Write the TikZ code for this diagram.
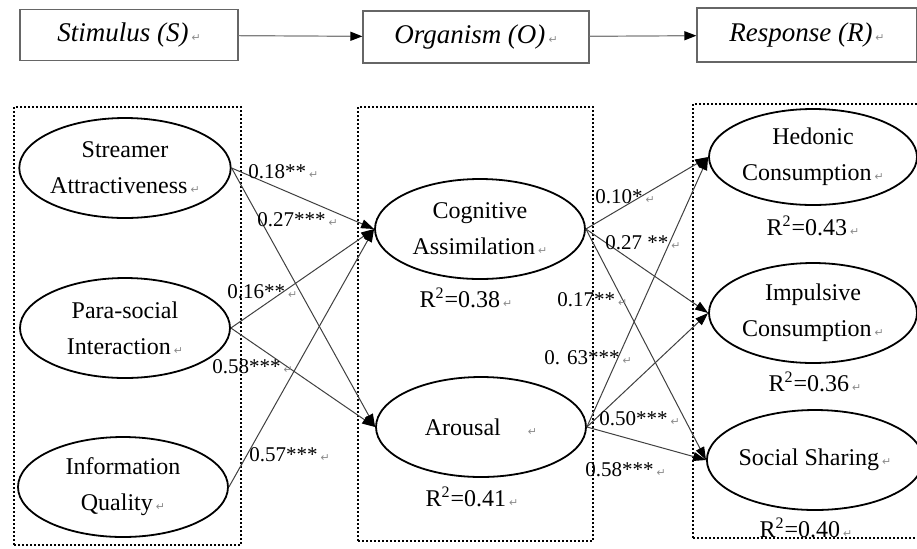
\documentclass[tikz,border=0pt]{standalone}
\usepackage{fontspec}
\setmainfont{Liberation Serif}
\newfontfamily\markfont{DejaVu Sans}
\usepackage{tikz}
\usetikzlibrary{arrows.meta, positioning}
\usetikzlibrary{shapes.geometric}

% marca de parágrafo cinza
\newcommand{\retmark}{\hspace{1.5pt}{\markfont\fontsize{5.5}{6}\selectfont\color{black!45}↵}}

\begin{document}
\begin{tikzpicture}[
    x=0.5pt, y=-0.5pt,
    stage/.style={
        rectangle,
        draw=black!60,
        line width=0.6pt,
        minimum width=109pt,
        minimum height=25.5pt,
        inner sep=0pt,
        font=\fontsize{13.5}{16}\selectfont\itshape
    },
    construct/.style={
        ellipse,
        draw=black,
        line width=0.9pt,
        minimum width=105pt,
        minimum height=50pt,
        inner sep=0pt,
        align=center,
        font=\fontsize{12}{18}\selectfont
    },
    dotbox/.style={
        rectangle,
        draw=black,
        line width=1pt,
        dash pattern=on 1pt off 1pt,
        inner sep=0pt
    },
    flow/.style={
        -{Triangle[length=6pt, width=4.5pt, color=black]},
        draw=black!50,
        line width=0.6pt
    },
    link/.style={
        -{Triangle[length=6.5pt, width=4.5pt, color=black]},
        draw=black!75,
        line width=0.5pt
    },
    coef/.style={
        anchor=west,
        inner sep=0pt,
        font=\fontsize{10.5}{12}\selectfont
    },
    rsq/.style={
        inner sep=0pt,
        font=\fontsize{12}{14}\selectfont
    }
]

\useasboundingbox (0,0) rectangle (917,548);

% =============== S -> O -> R (topo) ===============

\node[stage] (stimulus) at (129, 35) {Stimulus (S)\retmark};
\node[stage, minimum width=113pt, minimum height=26pt] (organism) at (476, 37) {Organism (O)\retmark};
\node[stage, minimum width=110pt, minimum height=27pt] (response) at (807, 35) {Response (R)\retmark};

\draw[flow] (stimulus) -- (organism);
\draw[flow] (organism) -- (response);

% =============== Grupos pontilhados ===============

\node[dotbox, minimum width=113.5pt, minimum height=219pt] (grp_s) at (127.5, 326) {};
\node[dotbox, minimum width=117.5pt, minimum height=217pt] (grp_o) at (475.5, 324) {};
\node[dotbox, minimum width=118.5pt, minimum height=217pt] (grp_r) at (811.5, 321) {};

% =============== Construtos ===============

% Estímulo
\node[construct] (streamer)   at (125, 168) {Streamer\\Attractiveness\retmark};
\node[construct] (parasocial) at (125, 328) {Para-social\\Interaction\retmark};
\node[construct] (infoqual)   at (123, 487) {Information\\Quality\retmark};

% Organismo
\node[construct] (cognitive) at (480, 229) {Cognitive\\Assimilation\retmark};
\node[construct] (arousal)   at (481, 427) {Arousal\hspace{12pt}\retmark};

% Resposta
\node[construct, minimum width=104pt, minimum height=48pt] (hedonic) at (813, 157) {Hedonic\\Consumption\retmark};
\node[construct, minimum width=104pt] (impulsive) at (813, 313) {Impulsive\\Consumption\retmark};
\node[construct, minimum width=102pt] (sharing) at (815, 460) {Social Sharing\retmark};

% =============== Caminhos ===============

\draw[link] (streamer.east)   -- (cognitive.west);
\draw[link] (streamer.east)   -- (arousal.west);
\draw[link] (parasocial.east) -- (cognitive.west);
\draw[link] (parasocial.east) -- (arousal.west);
\draw[link] (infoqual.east)   -- (cognitive.west);

\draw[link] (cognitive.east) -- (hedonic.west);
\draw[link] (cognitive.east) -- (impulsive.west);
\draw[link] (cognitive.east) -- (sharing.west);
\draw[link] (arousal.east)   -- (hedonic.west);
\draw[link] (arousal.east)   -- (impulsive.west);
\draw[link] (arousal.east)   -- (sharing.west);

% Coeficientes
\node[coef] (c_sa_cog)  at (248, 172) {0.18**\retmark};
\node[coef] (c_sa_aro)  at (257, 220) {0.27***\retmark};
\node[coef] (c_ps_cog)  at (227, 292) {0.16**\retmark};
\node[coef] (c_ps_aro)  at (212, 367) {0.58***\retmark};
\node[coef] (c_iq_cog)  at (249, 455) {0.57***\retmark};

\node[coef] (c_cog_hed) at (595, 197) {0.10*\retmark};
\node[coef] (c_cog_imp) at (605, 243) {0.27 **\retmark};
\node[coef] (c_cog_soc) at (557, 300) {0.17**\retmark};
\node[coef] (c_aro_hed) at (544, 358) {0. 63***\retmark};
\node[coef] (c_aro_imp) at (599, 419) {0.50***\retmark};
\node[coef] (c_aro_soc) at (585, 470) {0.58***\retmark};

% =============== R quadrado ===============

\node[rsq] (r2_cog) at (466, 298) {R\textsuperscript{2}=0.38\retmark};
\node[rsq] (r2_aro) at (472, 497) {R\textsuperscript{2}=0.41\retmark};
\node[rsq] (r2_hed) at (813, 226) {R\textsuperscript{2}=0.43\retmark};
\node[rsq] (r2_imp) at (815, 382) {R\textsuperscript{2}=0.36\retmark};
\node[rsq] (r2_soc) at (806, 528) {R\textsuperscript{2}=0.40\retmark};

\end{tikzpicture}
\end{document}
